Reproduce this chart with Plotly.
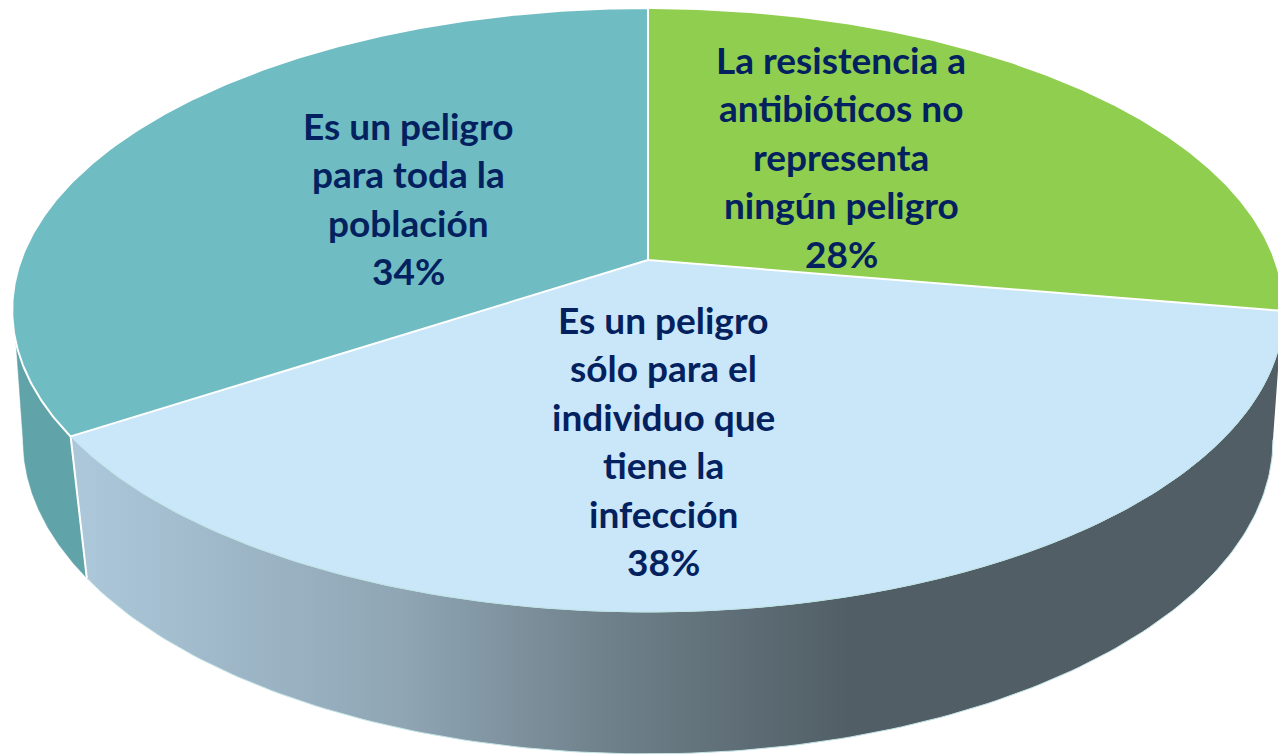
import numpy as np
import plotly.graph_objects as go

# Data
categories = [
    "La resistencia a antibióticos no representa ningún peligro",
    "Es un peligro sólo para el individuo que tiene la infección",
    "Es un peligro para toda la población",
]
shares = [27.7, 38.1, 34.2]
label_lines = [
    ["La resistencia a", "antibióticos no", "representa", "ningún peligro"],
    ["Es un peligro", "sólo para el", "individuo que", "tiene la", "infección"],
    ["Es un peligro", "para toda la", "población"],
]

# Layout / style
W, H = 1278, 754
CX = 648
TOP = dict(y0=260.0, a=627.0, b=293.7, k=0.1656)
BOTTOM = dict(y0=396.0, a=618.8, b=307.8, k=0.14)
TOP_COLORS = ["#8FCE4F", "#C9E7F9", "#70BCC3"]
TEAL_SIDE = "#60A3A8"
GRADIENT = [[0, "#ABC7D9"], [0.42, "#8FA5B4"], [0.68, "#6F818B"], [1, "#515E65"]]
TEXT_COLOR = "#04215F"
FONT = "Lato"
FONT_SIZE = 37
LINE_GAP = 48.5
LABEL_CENTERS = [(841, 59), (663, 319), (408, 125)]
SILH_TOP = (105.7, 254.3)
SILH_BOT = (98.0, 262.0)


def project(theta_deg, p):
    t = np.radians(theta_deg)
    u, v = np.sin(t), np.cos(t)
    w = 1 + p["k"] * v
    return CX + p["a"] * u / w, p["y0"] - p["b"] * v / w


bounds = np.concatenate([[0], np.cumsum(shares)]) * 3.6


def arc(t0, t1, p, n=160):
    return project(np.linspace(t0, t1, n), p)


fig = go.Figure()

# Side of the third slice (left)
t_div = bounds[2]
bx, by = arc(t_div, SILH_BOT[1], BOTTOM)
tx, ty = arc(SILH_TOP[1], t_div, TOP)
fig.add_trace(go.Scatter(x=np.r_[bx, tx], y=np.r_[by, ty], mode="lines", fill="toself",
                         fillcolor=TEAL_SIDE, line=dict(color=TEAL_SIDE, width=0.5), hoverinfo="skip"))

# Side of the middle slice (front, gradient)
bx, by = arc(SILH_BOT[0], t_div, BOTTOM)
tx, ty = arc(t_div, SILH_TOP[0], TOP)
fig.add_trace(go.Scatter(x=np.r_[bx, tx], y=np.r_[by, ty], mode="lines", fill="toself",
                         fillgradient=dict(type="horizontal", start=84, stop=850, colorscale=GRADIENT),
                         line=dict(color="#C4E4E6", width=1), hoverinfo="skip"))

# White divider on the side
dx = [project(t_div, TOP)[0], project(t_div, BOTTOM)[0]]
dy = [project(t_div, TOP)[1], project(t_div, BOTTOM)[1]]
fig.add_trace(go.Scatter(x=dx, y=dy, mode="lines", line=dict(color="white", width=2), hoverinfo="skip"))

# Top faces
for i in (1, 0, 2):
    ax, ay = arc(bounds[i], bounds[i + 1], TOP, 240)
    is_mid = i == 1
    fig.add_trace(go.Scatter(
        x=np.r_[CX, ax, CX], y=np.r_[TOP["y0"], ay, TOP["y0"]],
        mode="lines", fill="toself", fillcolor=TOP_COLORS[i],
        line=dict(color="#BFE3E6" if is_mid else "white", width=1 if is_mid else 2),
        hoverinfo="skip", name=categories[i]))

# Labels
for i, (lx, ly) in enumerate(LABEL_CENTERS):
    lines = label_lines[i] + [f"{round(shares[i])}%"]
    for j, txt in enumerate(lines):
        fig.add_annotation(x=lx, y=ly + j * LINE_GAP, text=txt, showarrow=False,
                           xanchor="center", yanchor="middle",
                           font=dict(family=FONT, size=FONT_SIZE, color=TEXT_COLOR, weight=700))

fig.update_layout(
    width=W, height=H, margin=dict(l=0, r=0, t=0, b=0),
    paper_bgcolor="white", plot_bgcolor="white", showlegend=False,
    xaxis=dict(range=[0, W], visible=False, fixedrange=True),
    yaxis=dict(range=[H, 0], visible=False, fixedrange=True),
)
fig.write_html("out.html", config=dict(displayModeBar=False),
               post_script="document.body.style.margin='0';document.body.style.overflow='hidden';"
                           "document.body.style.fontVariantLigatures='none';")
